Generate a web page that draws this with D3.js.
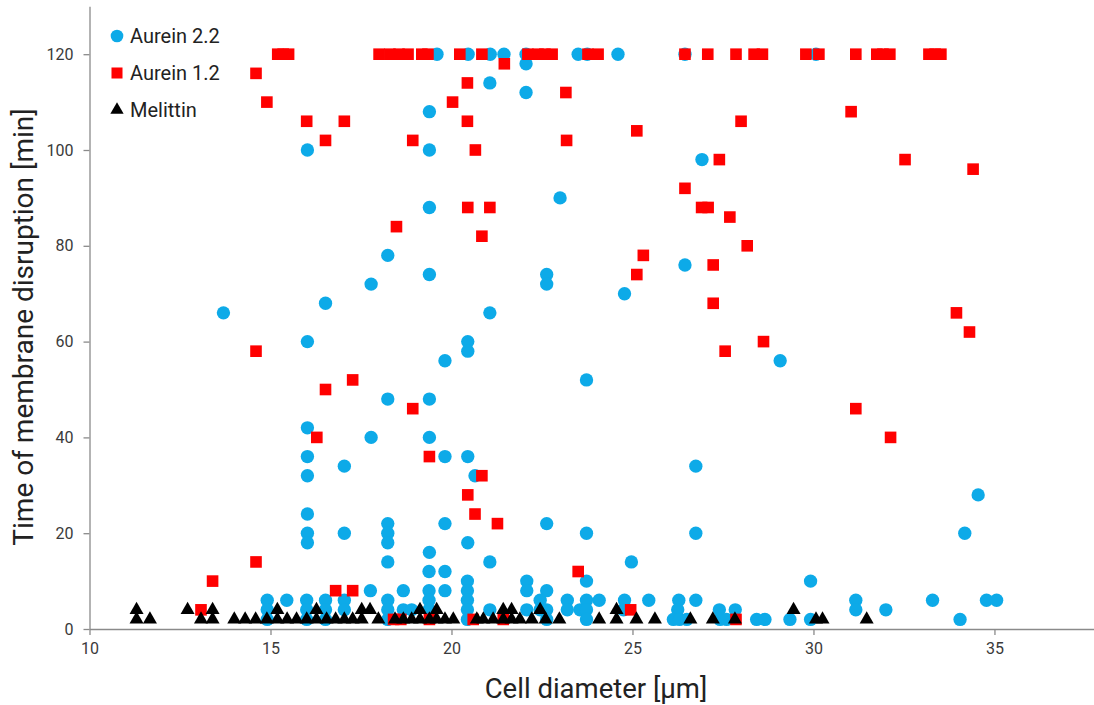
<!DOCTYPE html>
<html>
<head>
<meta charset="utf-8">
<script src="https://cdn.jsdelivr.net/npm/d3@7"></script>
<style>
  body { margin: 0; background: #fff; }
  svg { display: block; font-family: Roboto, "Noto Sans", sans-serif; }
</style>
</head>
<body>
<svg id="chart" width="1094" height="705"></svg>
<script>
'use strict';

// Aurein 2.2 : [cell diameter µm, time min]
var aurein22 = [
  [19.6,120],[20.46,120],[21.07,120],[21.45,120],[22.06,120],[23.5,120],[23.75,120],[24.6,120],[26.45,120],[30.07,120],
  [22.06,118],[21.06,114],[22.06,112],[19.39,108],
  [16.02,100],[19.39,100],[26.92,98],[23.0,90],[19.39,88],
  [18.24,78],[26.45,76],[19.39,74],[22.63,74],[22.63,72],[17.78,72],[24.78,70],[16.52,68],[13.7,66],[21.06,66],
  [16.02,60],[20.45,60],[20.45,58],[19.82,56],[29.08,56],[23.73,52],
  [18.24,48],[19.39,48],[16.02,42],[17.78,40],[19.39,40],
  [16.02,36],[19.82,36],[20.45,36],[17.04,34],[26.75,34],[16.02,32],[20.65,32],[34.55,28],
  [16.02,24],[18.24,22],[19.82,22],[22.63,22],
  [16.02,20],[17.04,20],[18.24,20],[23.73,20],[26.75,20],[34.18,20],
  [16.02,18],[18.24,18],[20.45,18],[19.39,16],
  [18.24,14],[21.06,14],[24.97,14],
  [19.38,12],[19.82,12],
  [20.44,10],[22.08,10],[23.73,10],[29.92,10],
  [17.76,8],[18.67,8],[19.38,8],[19.82,8],[20.44,8],[22.08,8],[22.63,8],
  [14.91,6],[15.45,6],[16.0,6],[16.52,6],[17.04,6],[18.24,6],[19.38,6],[20.44,6],[22.45,6],[23.2,6],[23.73,6],[24.08,6],
  [24.78,6],[25.45,6],[26.28,6],[26.75,6],[31.17,6],[33.29,6],[34.78,6],[35.06,6],
  [14.91,4],[16.0,4],[16.52,4],[17.04,4],[18.24,4],[18.67,4],[18.9,4],[19.38,4],[20.44,4],[21.06,4],[22.08,4],[22.45,4],
  [22.63,4],[23.2,4],[23.55,4],[23.73,4],[24.75,4],[26.25,4],[27.4,4],[27.84,4],[31.17,4],[32.0,4],
  [14.91,2],[16.0,2],[16.52,2],[18.24,2],[20.44,2],[22.63,2],[23.73,2],[26.13,2],[26.3,2],[26.5,2],[27.42,2],[27.6,2],
  [28.43,2],[28.66,2],[29.35,2],[29.92,2],[34.05,2]
];

// Aurein 1.2
var aurein12 = [
  [15.2,120],[15.35,120],[15.5,120],[18.0,120],[18.3,120],[18.55,120],[18.8,120],[19.18,120],[19.35,120],[20.23,120],
  [20.84,120],[22.11,120],[22.39,120],[22.58,120],[22.78,120],[23.77,120],[24.05,120],[26.45,120],[27.08,120],[27.86,120],
  [28.36,120],[28.59,120],[29.79,120],[30.15,120],[31.17,120],[31.75,120],[31.92,120],[32.11,120],[33.19,120],[33.36,120],[33.52,120],
  [21.46,118],[14.6,116],[20.44,114],[23.16,112],[14.9,110],[20.03,110],[31.04,108],[16.0,106],[17.04,106],[20.44,106],
  [28.0,106],[25.12,104],[16.52,102],[18.93,102],[23.18,102],[20.66,100],
  [27.4,98],[32.53,98],[34.41,96],[26.45,92],[20.45,88],[21.06,88],[26.91,88],[27.09,88],[27.69,86],[18.48,84],[20.84,82],
  [28.17,80],[25.3,78],[27.23,76],[25.12,74],[27.23,68],[33.95,66],[34.31,62],[28.62,60],[14.6,58],[27.56,58],[17.27,52],
  [16.52,50],[18.93,46],[31.17,46],[16.28,40],[32.13,40],[19.39,36],[20.84,32],[20.45,28],[20.65,24],[21.27,22],
  [14.6,14],[23.5,12],[13.4,10],[16.8,8],[17.27,8],[13.08,4],[24.95,4],
  [18.4,2],[18.6,2],[19.39,2],[20.6,2],[21.43,2],[27.86,2]
];

// Melittin
var melittin = [
  [11.3,2],[11.67,2],[13.08,2],[13.4,2],[14.0,2],[14.3,2],[14.59,2],[14.9,2],[15.19,2],[15.46,2],[15.72,2],[16.0,2],
  [16.27,2],[16.55,2],[16.8,2],[17.04,2],[17.27,2],[17.52,2],[17.98,2],[18.44,2],[18.67,2],[18.9,2],[19.13,2],[19.39,2],
  [19.59,2],[19.82,2],[20.05,2],[20.7,2],[20.88,2],[21.15,2],[21.43,2],[21.66,2],[21.89,2],[22.22,2],[22.6,2],[22.98,2],
  [24.08,2],[24.56,2],[25.11,2],[25.62,2],[26.6,2],[27.22,2],[27.83,2],[30.07,2],[30.25,2],[31.47,2],
  [11.3,4],[12.71,4],[13.4,4],[15.19,4],[16.27,4],[17.52,4],[17.75,4],[19.13,4],[19.59,4],[21.43,4],[21.66,4],
  [22.45,4],[24.56,4],[29.45,4]
];

var xTicks = [10, 15, 20, 25, 30, 35];
var yTicks = [0, 20, 40, 60, 80, 100, 120];
var seriesNames = ["Aurein 2.2", "Aurein 1.2", "Melittin"];
var seriesColors = ["#0DAAE8", "#FF0000", "#000000"];

var svg = d3.select("#chart");

var x = d3.scaleLinear().domain([10, 37.75]).range([89.5, 1094]);
var y = d3.scaleLinear().domain([0, 130]).range([629, 6.3]);

// axes
var xAxis = svg.append("g")
  .attr("transform", "translate(0,629)")
  .call(d3.axisBottom(x).tickValues(xTicks).tickSize(6).tickSizeOuter(0).tickPadding(8));
var yAxis = svg.append("g")
  .attr("transform", "translate(89.5,0)")
  .call(d3.axisLeft(y).tickValues(yTicks).tickSize(6).tickSizeOuter(0).tickPadding(10));

[xAxis, yAxis].forEach(function(ax) {
  ax.select(".domain").attr("stroke", "#8a8a8a").attr("stroke-width", 1.3);
  ax.selectAll(".tick line").attr("stroke", "#8a8a8a").attr("stroke-width", 1.3);
  ax.selectAll(".tick text").attr("fill", "#3a3a3a").style("font-size", "16px").style("font-family", "Roboto, sans-serif");
});

// axis titles
svg.append("text")
  .attr("x", 596).attr("y", 698)
  .attr("text-anchor", "middle")
  .attr("fill", "#222")
  .style("font-size", "27.5px")
  .text("Cell diameter [µm]");

svg.append("text")
  .attr("transform", "translate(33,327) rotate(-90)")
  .attr("text-anchor", "middle")
  .attr("fill", "#222")
  .style("font-size", "28px")
  .text("Time of membrane disruption [min]");

// marks
var sym = [d3.symbolCircle, d3.symbolSquare, d3.symbolTriangle];
var sizes = [140, 135, 85];
var allSeries = [aurein22, aurein12, melittin];

allSeries.forEach(function(data, i) {
  svg.append("g").selectAll("path")
    .data(data)
    .join("path")
    .attr("transform", function(d) { return "translate(" + x(d[0]) + "," + y(d[1]) + ")"; })
    .attr("d", d3.symbol().type(sym[i]).size(sizes[i]))
    .attr("fill", seriesColors[i]);
});

// legend
var legend = svg.append("g");
seriesNames.forEach(function(name, i) {
  var ly = 36 + i * 37;
  legend.append("path")
    .attr("transform", "translate(117," + ly + ")")
    .attr("d", d3.symbol().type(sym[i]).size(sizes[i] * 0.9))
    .attr("fill", seriesColors[i]);
  legend.append("text")
    .attr("x", 130).attr("y", ly + 7)
    .attr("fill", "#222")
    .style("font-size", "20px")
    .text(name);
});
</script>
</body>
</html>
